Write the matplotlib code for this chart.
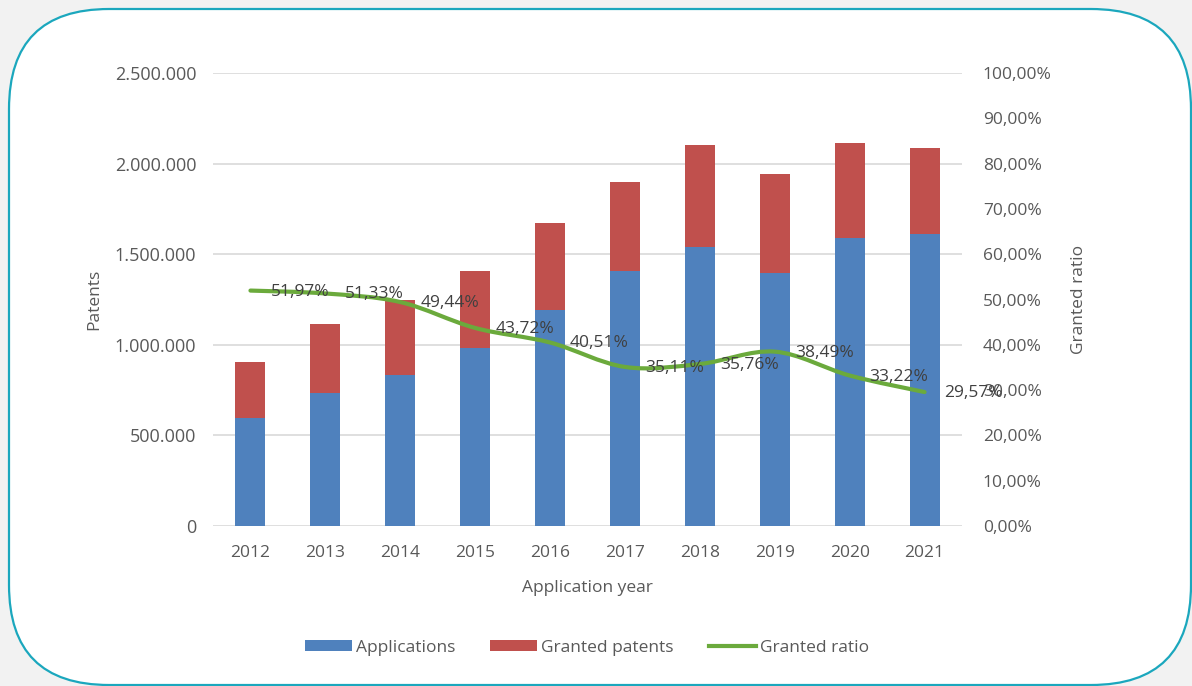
import matplotlib
matplotlib.use("Agg")
import matplotlib.pyplot as plt
import numpy as np
from matplotlib.patches import FancyBboxPatch, PathPatch, Patch
from matplotlib.lines import Line2D
from matplotlib.path import Path
from matplotlib.transforms import IdentityTransform
from matplotlib.ticker import FuncFormatter

plt.rcParams['font.family'] = ['Open Sans', 'DejaVu Sans']

# data
years = ['2012', '2013', '2014', '2015', '2016', '2017', '2018', '2019', '2020', '2021']
applications = [596000, 736000, 832000, 982000, 1192000, 1409000, 1541000, 1398000, 1591000, 1610000]
granted = [311000, 377000, 415000, 425000, 482000, 491000, 562000, 543000, 521000, 474000]
ratio = [51.97, 51.33, 49.44, 43.72, 40.51, 35.11, 35.76, 38.49, 33.22, 29.57]

blue = '#4F81BD'
red = '#C0504D'
green = '#6BAA3C'
txt = '#595959'
grid = '#D9D9D9'

fig = plt.figure(figsize=(11.92, 6.86), dpi=100)
fig.patch.set_facecolor('#F2F2F2')

# rounded white card with teal border (pixel coords)
card = FancyBboxPatch((9, 1), 1182, 676, boxstyle="round,pad=0,rounding_size=100",
                      transform=IdentityTransform(), facecolor='white',
                      edgecolor='#1BA7BD', linewidth=1.6, zorder=-5)
fig.patches.append(card)

ax = fig.add_axes([213 / 1192, 1 - 526 / 686, (962 - 213) / 1192, (526 - 73) / 686])
ax.set_facecolor('none')
x = np.arange(len(years))
ax.bar(x, applications, width=0.4, color=blue, zorder=2)
ax.bar(x, granted, width=0.4, bottom=applications, color=red, zorder=2)
ax.set_xlim(-0.5, len(years) - 0.5)
ax.set_ylim(0, 2500000)
ax.set_yticks(np.arange(0, 2500001, 500000))
ax.yaxis.set_major_formatter(FuncFormatter(lambda v, p: '{:,.0f}'.format(v).replace(',', '.')))
ax.set_xticks(x)
ax.set_xticklabels(years)
ax.grid(axis='y', color=grid, linewidth=1.2, zorder=0)
ax.set_axisbelow(True)
for s in ax.spines.values():
    s.set_visible(False)
ax.tick_params(length=0, colors=txt)
ax.tick_params(axis='y', pad=12, labelsize=13)
ax.tick_params(axis='x', pad=14, labelsize=12.5)
ax.set_ylabel('Patents', color=txt, fontsize=12.5, labelpad=9)
ax.set_xlabel('Application year', color=txt, fontsize=12.5, labelpad=13)

ax2 = ax.twinx()
ax2.set_ylim(0, 100)
ax2.set_yticks(np.arange(0, 101, 10))
ax2.yaxis.set_major_formatter(FuncFormatter(lambda v, p: '{:.2f}%'.format(v).replace('.', ',')))
for s in ax2.spines.values():
    s.set_visible(False)
ax2.tick_params(length=0, colors=txt, labelsize=12.5, pad=15)
ax2.set_ylabel('Granted ratio', color=txt, fontsize=12.5, labelpad=14)

# smoothed line (bezier through the data points, like Excel)
pts = np.column_stack([x, ratio]).astype(float)
verts = [pts[0]]
codes = [Path.MOVETO]
n = len(pts)
for i in range(n - 1):
    p0 = pts[max(i - 1, 0)]
    p1 = pts[i]
    p2 = pts[i + 1]
    p3 = pts[min(i + 2, n - 1)]
    c1 = p1 + (p2 - p0) / 6
    c2 = p2 - (p3 - p1) / 6
    verts += [c1, c2, p2]
    codes += [Path.CURVE4] * 3
ax2.add_patch(PathPatch(Path(verts, codes), facecolor='none', edgecolor=green,
                        linewidth=3, capstyle='round', zorder=3))

for xi, r in zip(x, ratio):
    ax2.annotate('{:.2f}%'.format(r).replace('.', ','), (xi, r), xytext=(20, -1),
                 textcoords='offset pixels', ha='left', va='center',
                 color='#404040', fontsize=12.5, zorder=4)

handles = [Patch(facecolor=blue), Patch(facecolor=red), Line2D([], [], color=green, linewidth=3)]
fig.legend(handles, ['Applications', 'Granted patents', 'Granted ratio'],
           loc='center', bbox_to_anchor=(587 / 1192, 1 - 648 / 686), ncol=3, frameon=False,
           fontsize=12.5, labelcolor=txt, handlelength=2.7, handleheight=0.6,
           handletextpad=0.25, columnspacing=2.0)

fig.savefig('out.png', dpi=100, facecolor=fig.get_facecolor())
